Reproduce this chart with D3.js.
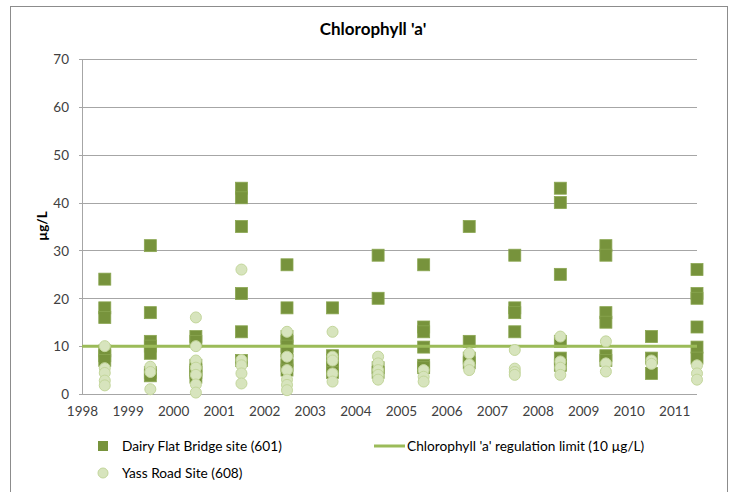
<!DOCTYPE html>
<html>
<head>
<meta charset="utf-8">
<script src="https://cdn.jsdelivr.net/npm/d3@7"></script>
<style>
  html, body { margin: 0; padding: 0; background: #fff; }
  svg { display: block; font-family: Lato, "Open Sans", sans-serif; }
</style>
</head>
<body>
<svg id="chart" width="735" height="492"></svg>
<script>
// Sampling years (each sample set is plotted mid-year)
const years = [1998, 1999, 2000, 2001, 2002, 2003, 2004, 2005, 2006, 2007, 2008, 2009, 2010, 2011];

// Dairy Flat Bridge site (601) readings, µg/L, one list per year
const dairyFlat = [
  [24, 18, 16, 9, 8, 7],
  [31, 17, 11, 10, 8.5, 4.5, 3.8],
  [12, 11, 6, 5, 4.5, 3.5],
  [43, 41, 35, 21, 13, 7],
  [27, 18, 12, 11, 10, 9, 7, 6, 5],
  [18, 8, 7, 5.5, 4.5],
  [29, 20, 5.5, 4.5],
  [27, 14, 13, 9.8, 6, 5.5],
  [35, 11, 7.5, 6.5],
  [29, 18, 17, 13],
  [43, 40, 25, 11, 7.5, 6],
  [31, 29, 17, 15, 8, 7],
  [12, 7.5, 4.3],
  [26, 21, 20, 14, 9.8, 7.5]
];

// Yass Road Site (608) readings, µg/L, one list per year
const yassRoad = [
  [10, 5.4, 4.4, 2.8, 1.8],
  [5.7, 4.6, 1.0],
  [16, 10, 7, 5.5, 4, 2, 0.3],
  [26, 7.1, 6, 4.3, 2.2],
  [13, 7.8, 5, 3, 1.9, 0.8],
  [13, 7.8, 7, 4.3, 2.6],
  [7.8, 6.4, 5, 4, 3],
  [5, 3.6, 2.6],
  [8.5, 6.2, 5],
  [9.2, 5.3, 4.6, 4],
  [12, 6.8, 5.5, 4],
  [11, 6.4, 4.7],
  [7, 6.3],
  [6, 4.3, 3]
];

// Regulation limit for chlorophyll 'a'
const limitValue = 10;

const yTicks = [0, 10, 20, 30, 40, 50, 60, 70];
const xTicks = years;

const seriesNames = ["Dairy Flat Bridge site (601)", "Chlorophyll 'a' regulation limit (10 µg/L)", "Yass Road Site (608)"];

const colors = {
  dairy: "#77933C",
  dairyEdge: "#8AA651",
  yass: "#D7E4BD",
  yassEdge: "#C3D69B",
  limit: "#9BBB59",
  grid: "#A6A6A6",
  text: "#404040"
};

const svg = d3.select("#chart");

// Chart frame
svg.append("rect")
  .attr("x", 10.5).attr("y", 6.5)
  .attr("width", 717).attr("height", 492)
  .attr("fill", "none").attr("stroke", "#8C8C8C").attr("stroke-width", 1);

const x = d3.scaleLinear().domain([1998, 2011.5]).range([82, 697]);
const y = d3.scaleLinear().domain([0, 70]).range([394, 59]);

// Horizontal gridlines
svg.append("g")
  .selectAll("line")
  .data(yTicks)
  .join("line")
  .attr("x1", 79).attr("x2", 697)
  .attr("y1", d => Math.round(y(d)) + 0.5)
  .attr("y2", d => Math.round(y(d)) + 0.5)
  .attr("stroke", colors.grid).attr("stroke-width", 1);

// Vertical axis line
svg.append("line")
  .attr("x1", 82.5).attr("x2", 82.5)
  .attr("y1", y(70)).attr("y2", y(0) + 0.5)
  .attr("stroke", colors.grid);

// Y axis tick labels
const yAxis = d3.axisLeft(y).tickValues(yTicks).tickSize(0).tickPadding(0);
const gy = svg.append("g").attr("transform", "translate(69,0)").call(yAxis);
gy.select(".domain").remove();
gy.selectAll("text")
  .attr("font-family", "Lato, sans-serif")
  .attr("font-size", 13.5).attr("fill", colors.text).attr("dy", "0.35em");

// X axis tick labels
const xAxis = d3.axisBottom(x).tickValues(xTicks).tickFormat(d3.format("d")).tickSize(0).tickPadding(0);
const gx = svg.append("g").attr("transform", "translate(0,406)").call(xAxis);
gx.select(".domain").remove();
gx.selectAll("text")
  .attr("font-family", "Lato, sans-serif")
  .attr("font-size", 13.5).attr("fill", colors.text).attr("dy", "0.71em");

// Title
svg.append("text")
  .attr("x", 373).attr("y", 35)
  .attr("text-anchor", "middle")
  .attr("font-size", 17).attr("font-weight", "bold").attr("fill", "#000")
  .text("Chlorophyll 'a'");

// Y axis title
svg.append("text")
  .attr("transform", "translate(47,226) rotate(-90)")
  .attr("text-anchor", "middle")
  .attr("font-size", 13.5).attr("font-weight", "bold").attr("fill", "#000")
  .text("µg/L");

// Flatten year lists into points
const dairyPts = years.flatMap((yr, i) => dairyFlat[i].map(v => ({ t: yr + 0.5, v })));
const yassPts = years.flatMap((yr, i) => yassRoad[i].map(v => ({ t: yr + 0.5, v })));

const sq = 12;
// Dairy Flat Bridge squares
svg.append("g")
  .selectAll("rect")
  .data(dairyPts)
  .join("rect")
  .attr("x", d => x(d.t) - sq / 2)
  .attr("y", d => y(d.v) - sq / 2)
  .attr("width", sq).attr("height", sq)
  .attr("fill", colors.dairy)
  .attr("stroke", colors.dairyEdge).attr("stroke-width", 0.8);

// Regulation limit line
svg.append("line")
  .attr("x1", x(1998)).attr("x2", x(2011.5))
  .attr("y1", y(limitValue)).attr("y2", y(limitValue))
  .attr("stroke", colors.limit).attr("stroke-width", 3);

// Yass Road circles
svg.append("g")
  .selectAll("circle")
  .data(yassPts)
  .join("circle")
  .attr("cx", d => x(d.t))
  .attr("cy", d => y(d.v))
  .attr("r", 5.5)
  .attr("fill", colors.yass)
  .attr("stroke", colors.yassEdge).attr("stroke-width", 1);

// Legend
const legend = svg.append("g").attr("font-size", 13.7).attr("fill", "#000");

legend.append("rect")
  .attr("x", 98).attr("y", 441).attr("width", 10).attr("height", 10)
  .attr("fill", colors.dairy);
legend.append("text")
  .attr("x", 122).attr("y", 446).attr("dy", "0.35em")
  .text(seriesNames[0]);

legend.append("line")
  .attr("x1", 374).attr("x2", 405).attr("y1", 446).attr("y2", 446)
  .attr("stroke", colors.limit).attr("stroke-width", 3);
legend.append("text")
  .attr("x", 407).attr("y", 446).attr("dy", "0.35em")
  .text(seriesNames[1]);

legend.append("circle")
  .attr("cx", 103).attr("cy", 473).attr("r", 5)
  .attr("fill", colors.yass).attr("stroke", colors.yassEdge);
legend.append("text")
  .attr("x", 122).attr("y", 473).attr("dy", "0.35em")
  .text(seriesNames[2]);
</script>
</body>
</html>
